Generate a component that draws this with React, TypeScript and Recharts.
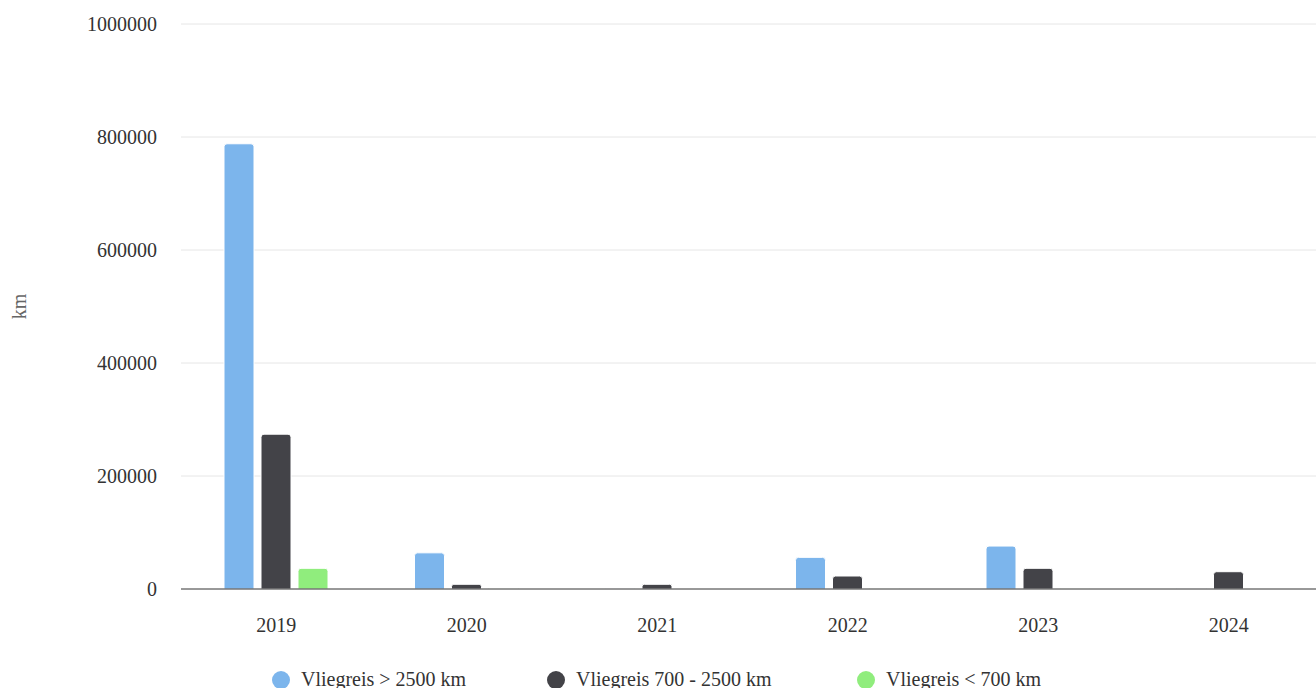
import React from 'react';
import { BarChart, Bar, XAxis, YAxis, CartesianGrid, Legend, Label } from 'recharts';

const years = ['2019', '2020', '2021', '2022', '2023', '2024'];
const longHaul = [788000, 64000, 800, 56000, 76000, 800];
const midHaul = [274000, 8300, 8300, 23000, 36600, 30600];
const shortHaul = [36600, 800, 0, 800, 800, 0];
const yTicks = [0, 200000, 400000, 600000, 800000, 1000000];

const seriesNames = ['Vliegreis > 2500 km', 'Vliegreis 700 - 2500 km', 'Vliegreis < 700 km'];
const seriesColors = ['#7cb5ec', '#434348', '#90ed7d'];

const data = years.map((y, i) => ({
  year: y,
  a: longHaul[i],
  b: midHaul[i],
  c: shortHaul[i],
}));

const FONT = '"Liberation Serif", "DejaVu Serif", serif';

const renderLegend = () => (
  <div style={{ position: 'relative', height: 30, fontFamily: FONT, fontSize: 20, color: '#333' }}>
    {seriesNames.map((n, i) => (
      <div
        key={n}
        style={{ position: 'absolute', left: [272, 547, 857][i], top: 0, display: 'flex', alignItems: 'center', whiteSpace: 'nowrap' }}
      >
        <svg width={18} height={18} style={{ marginRight: 11 }}>
          <circle cx={9} cy={9} r={9} fill={seriesColors[i]} />
        </svg>
        <span>{n}</span>
      </div>
    ))}
  </div>
);

export default function App() {
  return (
    <div style={{ position: 'absolute', left: 0, top: 0, width: 1316, height: 688, overflow: 'hidden', background: '#fff' }}>
      <BarChart
        width={1340}
        height={700}
        data={data}
        margin={{ top: 24, right: 16, bottom: 81, left: 0 }}
        barSize={30}
        barGap={7}
      >
        <CartesianGrid vertical={false} stroke="#e6e6e6" horizontalValues={[200000, 400000, 600000, 800000, 1000000]} />
        <XAxis
          dataKey="year"
          height={30}
          tickLine={false}
          tickMargin={23}
          axisLine={{ stroke: '#333', strokeWidth: 1 }}
          tick={{ fill: '#333', fontSize: 20, fontFamily: FONT }}
        />
        <YAxis
          width={181}
          domain={[0, 1000000]}
          ticks={yTicks}
          interval={0}
          axisLine={false}
          tickLine={false}
          tickMargin={18}
          tick={{ fill: '#333', fontSize: 20, fontFamily: FONT }}
        >
          <Label
            value="km"
            angle={-90}
            position="insideLeft"
            offset={19}
            style={{ fill: '#666', fontSize: 20, fontFamily: FONT, textAnchor: 'middle' }}
          />
        </YAxis>
        <Legend
          layout="horizontal"
          verticalAlign="middle"
          align="center"
          wrapperStyle={{ top: 668, left: 0, width: 1316 }}
          content={renderLegend}
        />
        <Bar dataKey="a" name={seriesNames[0]} fill={seriesColors[0]} stroke="#fff" strokeWidth={1} radius={[3, 3, 0, 0]} isAnimationActive={false} />
        <Bar dataKey="b" name={seriesNames[1]} fill={seriesColors[1]} stroke="#fff" strokeWidth={1} radius={[3, 3, 0, 0]} isAnimationActive={false} />
        <Bar dataKey="c" name={seriesNames[2]} fill={seriesColors[2]} stroke="#fff" strokeWidth={1} radius={[3, 3, 0, 0]} isAnimationActive={false} />
      </BarChart>
    </div>
  );
}
